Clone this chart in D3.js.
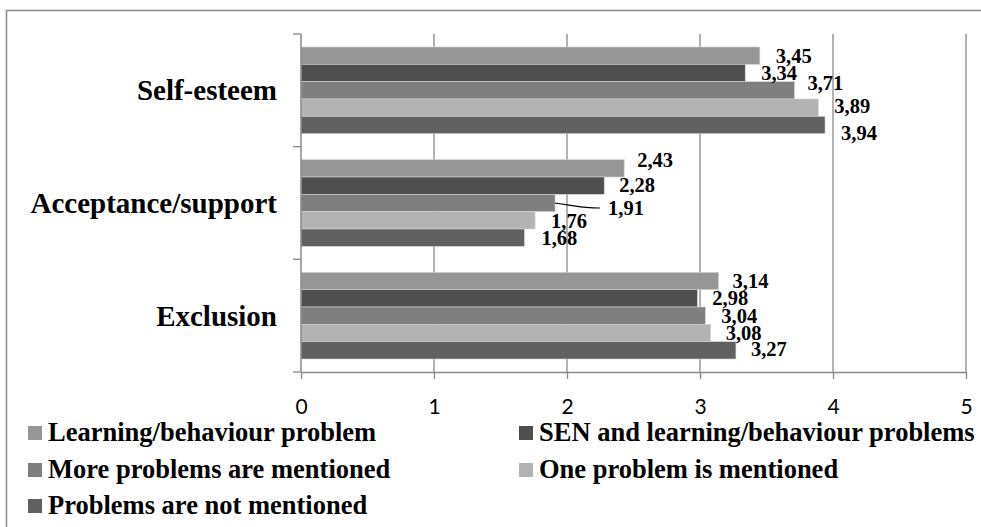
<!DOCTYPE html>
<html>
<head>
<meta charset="utf-8">
<script src="https://cdn.jsdelivr.net/npm/d3@7"></script>
<style>
body { margin: 0; background: #fff; }
svg { display: block; }
</style>
</head>
<body>
<svg id="chart" width="981" height="527"></svg>
<script>
var categories = ["Self-esteem", "Acceptance/support", "Exclusion"];
var seriesNames = [
	"Learning/behaviour problem",
	"SEN and learning/behaviour problems",
	"More problems are mentioned",
	"One problem is mentioned",
	"Problems are not mentioned"
];
var learningProblem = [3.45, 2.43, 3.14];
var senProblems = [3.34, 2.28, 2.98];
var moreProblems = [3.71, 1.91, 3.04];
var oneProblem = [3.89, 1.76, 3.08];
var notMentioned = [3.94, 1.68, 3.27];
var xTicks = [0, 1, 2, 3, 4, 5];

var seriesValues = [learningProblem, senProblems, moreProblems, oneProblem, notMentioned];
var colors = ["#969696", "#4f4f4f", "#7f7f7f", "#b3b3b3", "#606060"];

// label nudges [dx from bar end, dy from bar centre], per category then series
var labelNudge = [
	[[16, 7], [16, 7], [13, 0], [16, 5], [16, 15]],
	[[13, -1], [15, 6], [53, 12], [16, 7.5], [17, 7]],
	[[14, 7], [15, 7], [16, 7], [15, 7], [15, 6]]
];

var svg = d3.select("#chart");
var plotLeft = 301, plotRight = 966, plotTop = 34, plotBottom = 372;
var gridColor = "#898989";

// outer frame
svg.append("rect")
	.attr("x", 6.5).attr("y", 10.5)
	.attr("width", 990).attr("height", 540)
	.attr("fill", "none").attr("stroke", gridColor).attr("stroke-width", 1.5);

var xScale = d3.scaleLinear().domain([0, 5]).range([plotLeft, plotRight]);
var yScale = d3.scaleBand().domain(categories).range([plotTop, plotBottom]);
var inner = d3.scaleBand().domain(d3.range(seriesNames.length))
	.range([0, yScale.bandwidth()]).paddingInner(0).paddingOuter(0.75);

var fmt = function(v){ return d3.format(".2f")(v).replace(".", ","); };

// vertical gridlines
svg.append("g").selectAll("line")
	.data(xTicks.slice(1)).enter().append("line")
	.attr("x1", function(d){ return xScale(d); })
	.attr("x2", function(d){ return xScale(d); })
	.attr("y1", plotTop).attr("y2", plotBottom)
	.attr("stroke", gridColor).attr("stroke-width", 1.3);

// bars
var rows = [];
categories.forEach(function(cat, ci){
	seriesValues.forEach(function(vals, si){
		rows.push({cat: cat, ci: ci, si: si, value: vals[ci]});
	});
});

svg.append("g").selectAll("rect")
	.data(rows).enter().append("rect")
	.attr("x", xScale(0))
	.attr("y", function(d){ return yScale(d.cat) + inner(d.si); })
	.attr("width", function(d){ return xScale(d.value) - xScale(0); })
	.attr("height", inner.bandwidth())
	.attr("fill", function(d){ return colors[d.si]; })
	.attr("stroke", "#d4d4d4").attr("stroke-width", 0.6);

// x axis
var xAxis = d3.axisBottom(xScale).tickValues(xTicks).tickFormat(d3.format("d"))
	.tickSize(7).tickSizeOuter(0).tickPadding(20);
var gx = svg.append("g").attr("transform", "translate(0," + plotBottom + ")").call(xAxis);
gx.select(".domain").attr("stroke", gridColor).attr("stroke-width", 1.5);
gx.selectAll(".tick line").attr("stroke", gridColor).attr("stroke-width", 1.3);
gx.selectAll(".tick text")
	.attr("fill", "#000")
	.style("font-family", "Lato, 'Open Sans', sans-serif")
	.style("font-size", "21px");

// y axis: ticks between categories
var yEdges = categories.map(function(c){ return yScale(c); }).concat([plotBottom]);
svg.append("line")
	.attr("x1", plotLeft).attr("x2", plotLeft).attr("y1", plotTop).attr("y2", plotBottom)
	.attr("stroke", gridColor).attr("stroke-width", 1.5);
svg.append("g").selectAll("line")
	.data(yEdges).enter().append("line")
	.attr("x1", plotLeft - 8).attr("x2", plotLeft)
	.attr("y1", function(d){ return d; }).attr("y2", function(d){ return d; })
	.attr("stroke", gridColor).attr("stroke-width", 1.3);

svg.append("g").selectAll("text")
	.data(categories).enter().append("text")
	.attr("x", 277)
	.attr("y", function(d){ return yScale(d) + yScale.bandwidth() / 2 + 10; })
	.attr("text-anchor", "end")
	.style("font-family", "'Liberation Serif', 'Times New Roman', serif")
	.style("font-weight", "bold")
	.style("font-size", "29px")
	.text(function(d){ return d; });

// leader line for the moved 1,91 label
var lead = rows.filter(function(d){ return d.ci === 1 && d.si === 2; })[0];
var ly = yScale(lead.cat) + inner(lead.si) + inner.bandwidth() / 2;
var lx = xScale(lead.value);
svg.append("path")
	.attr("d", d3.line().curve(d3.curveBasis)([[lx, ly], [lx + 20, ly + 3], [lx + 35, ly + 5], [lx + 45, ly + 5]]))
	.attr("fill", "none").attr("stroke", "#000").attr("stroke-width", 1.2);

// value labels
svg.append("g").selectAll("text")
	.data(rows).enter().append("text")
	.attr("x", function(d){ return xScale(d.value) + labelNudge[d.ci][d.si][0]; })
	.attr("y", function(d){ return yScale(d.cat) + inner(d.si) + inner.bandwidth() / 2 + labelNudge[d.ci][d.si][1]; })
	.style("font-family", "'Liberation Serif', 'Times New Roman', serif")
	.style("font-weight", "bold")
	.style("font-size", "20.5px")
	.text(function(d){ return fmt(d.value); });

// legend
var legendPos = [[28, 441], [519, 441], [28, 478], [519, 478], [28, 514]];
var legend = svg.append("g").selectAll("g")
	.data(seriesNames).enter().append("g")
	.attr("transform", function(d, i){ return "translate(" + legendPos[i][0] + "," + legendPos[i][1] + ")"; });
legend.append("rect")
	.attr("x", 0).attr("y", -15).attr("width", 14).attr("height", 14)
	.attr("fill", function(d, i){ return colors[i]; });
legend.append("text")
	.attr("x", 20).attr("y", 0)
	.style("font-family", "'Liberation Serif', 'Times New Roman', serif")
	.style("font-weight", "bold")
	.style("font-size", "26.5px")
	.text(function(d){ return d; });
</script>
</body>
</html>
